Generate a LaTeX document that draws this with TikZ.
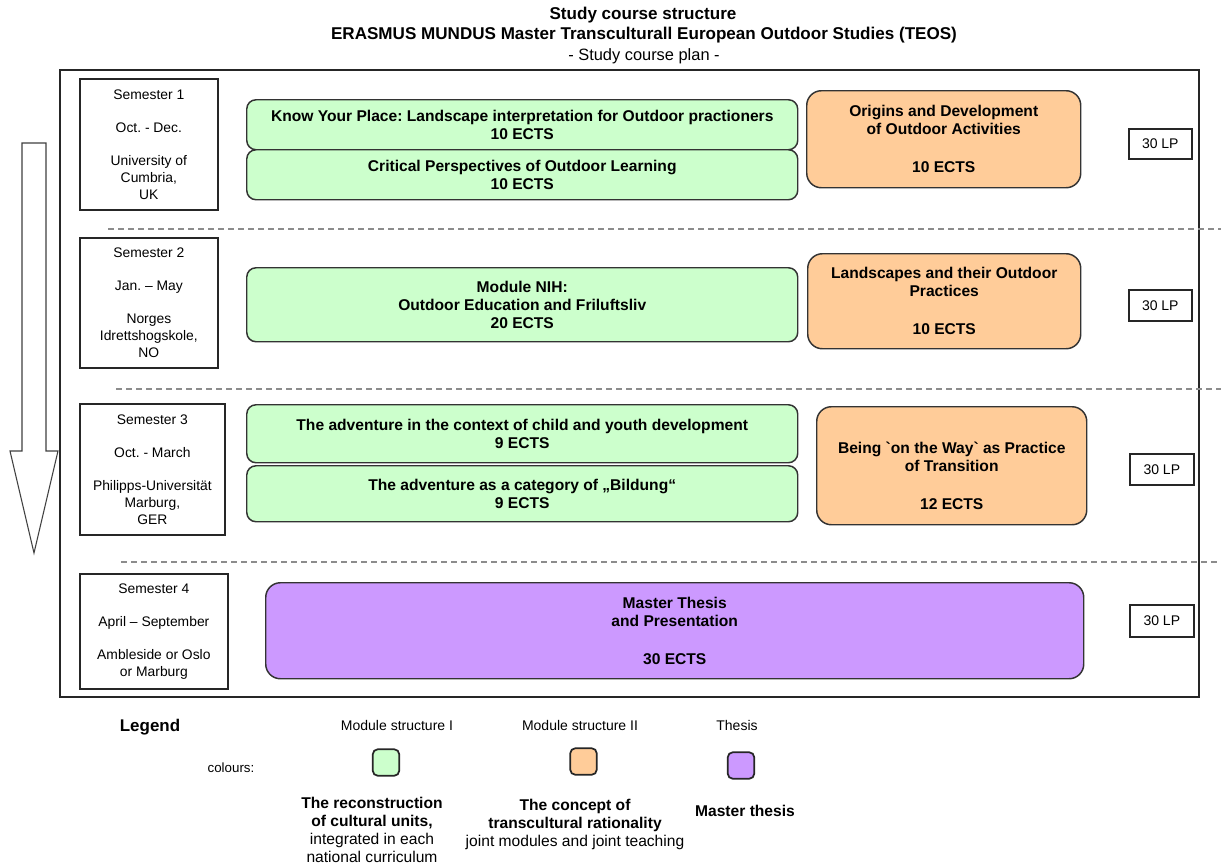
\documentclass[tikz,border=0pt]{standalone}
\usepackage{fontspec}
\setmainfont{Liberation Sans}
\definecolor{modgreen}{HTML}{CCFFCC}
\definecolor{modorange}{HTML}{FFCC99}
\definecolor{modpurple}{HTML}{CC99FF}
\frenchspacing
\begin{document}
\begin{tikzpicture}[x=0.75pt,y=-0.75pt,
  px/.style 2 args={minimum width=#1*0.75pt,minimum height=#2*0.75pt,inner sep=0pt,anchor=north west},
  modbox/.style={draw=black!80,line width=1.1pt,align=center,font=\fontsize{11.7}{13.5}\selectfont\bfseries},
  modI/.style={modbox,fill=modgreen,rounded corners=7pt},
  modII/.style={modbox,fill=modorange,rounded corners=11pt},
  thesisbox/.style={modbox,fill=modpurple,rounded corners=11pt},
  modtext/.style={align=center,inner sep=0pt,font=\fontsize{11.7}{13.5}\selectfont\bfseries},
  sembox/.style={draw=black!85,line width=1.3pt,align=center,font=\fontsize{10.4}{12.75}\selectfont},
  lpbox/.style={draw=black!85,line width=1.2pt,font=\fontsize{10.5}{12}\selectfont},
  sepline/.style={draw=black!45,line width=1pt,dash pattern=on 4.5pt off 3pt},
  titletext/.style={inner sep=0pt,font=\fontsize{12.8}{15}\selectfont\bfseries},
  legsmall/.style={inner sep=0pt,font=\fontsize{10.5}{12}\selectfont},
  legdesc/.style={inner sep=0pt,align=center,font=\fontsize{11.7}{13.5}\selectfont},
  legsq/.style={draw=black!85,line width=1.3pt,rounded corners=4pt,minimum size=20pt,inner sep=0pt}
]
\useasboundingbox (0,0) rectangle (1221,865);
\fill[white] (0,0) rectangle (1221,865);

% title
\node[titletext] (t1) at (643,15) {Study course structure};
\node[titletext] (t2) at (644,35) {ERASMUS MUNDUS Master Transculturall European Outdoor Studies (TEOS)};
\node[inner sep=0pt,font=\fontsize{12.3}{15}\selectfont] (t3) at (644,56) {- Study course plan -};

% frame
\draw[line width=1.2pt,black!85] (60,70) rectangle (1199,697);

% arrow
\draw[draw=black!75,line width=0.8pt,fill=white] (22,143) -- (46,143) -- (46,451) -- (58,451) -- (34,553) -- (10,451) -- (22,451) -- cycle;

% separators
\draw[sepline] (108,229) -- (1221,229);
\draw[sepline] (116,389) -- (1221,389);
\draw[sepline] (121,562) -- (1221,562);

% semesters
\node[sembox,px={138}{131}] (sem1) at (79,78) {Semester 1\\[12pt]Oct. - Dec.\\[12pt]University of\\Cumbria,\\UK};
\node[sembox,px={138}{130}] (sem2) at (79,237) {Semester 2\\[12pt]Jan. -- May\\[12pt]Norges\\Idrettshogskole,\\NO};
\node[sembox,px={145}{131}] (sem3) at (79,403) {Semester 3\\[12pt]Oct. - March\\[12pt]Philipps-Universität\\Marburg,\\GER};
\node[sembox,px={148}{115}] (sem4) at (79,573) {Semester 4\\[12pt]April -- September\\[12pt]Ambleside or Oslo\\or Marburg};

% modules semester 1
\node[modI,px={551}{50}] (s1a) at (246,99) {Know Your Place: Landscape interpretation for Outdoor practioners\\10 ECTS};
\node[modI,px={551}{50}] (s1b) at (246,149) {Critical Perspectives of Outdoor Learning\\10 ECTS};
\node[modII,px={274}{97}] (o1) at (806,90) {Origins and Development\\of Outdoor Activities\\[15pt]10 ECTS};

% semester 2
\node[modI,px={551}{74}] (s2a) at (246,267) {Module NIH:\\Outdoor Education and Friluftsliv\\20 ECTS};
\node[modII,px={273}{95}] (o2) at (807,253) {Landscapes and their Outdoor\\Practices\\[15pt]10 ECTS};

% semester 3
\node[modI,px={551}{58}] (s3a) at (246,404) {The adventure in the context of child and youth development\\9 ECTS};
\node[modI,px={551}{56}] (s3b) at (246,465) {The adventure as a category of „Bildung“\\9 ECTS};
\node[modII,px={270}{118}] (o3) at (816,406) {};
\node[modtext] (o3t) at ([yshift=-7.5pt]o3.center) {Being \textasciigrave{}on the Way\textasciigrave{} as Practice\\of Transition\\[15pt]12 ECTS};

% semester 4
\node[thesisbox,px={818}{96}] (th) at (265,582) {Master Thesis\\and Presentation\\[15pt]30 ECTS};

% LP boxes
\node[lpbox,px={63}{30}] (lp1) at (1128,128) {30 LP};
\node[lpbox,px={63}{31}] (lp2) at (1128,289) {30 LP};
\node[lpbox,px={64}{31}] (lp3) at (1129,453) {30 LP};
\node[lpbox,px={64}{32}] (lp4) at (1129,604) {30 LP};

% legend
\node[inner sep=0pt,font=\fontsize{12.7}{15}\selectfont\bfseries] (leg) at (150,727) {Legend};
\node[inner sep=0pt,font=\fontsize{10}{12}\selectfont] (col) at (231,768) {colours:};
\node[legsmall] (lh1) at (397,725) {Module structure I};
\node[legsmall] (lh2) at (580,725) {Module structure II};
\node[legsmall] (lh3) at (737,725) {Thesis};
\node[legsq,fill=modgreen] (sq1) at (386,762.5) {};
\node[legsq,fill=modorange] (sq2) at (583.5,761.5) {};
\node[legsq,fill=modpurple] (sq3) at (741,765.5) {};
\node[legdesc] (ld1) at (372,829.5) {\bfseries The reconstruction\\\bfseries of cultural units,\\integrated in each\\national curriculum};
\node[legdesc] (ld2) at (575,824.5) {\bfseries The concept of\\\bfseries transcultural rationality\\joint modules and joint teaching};
\node[legdesc,font=\fontsize{11.7}{13.5}\selectfont\bfseries] (ld3) at (745,811) {Master thesis};
\end{tikzpicture}
\end{document}
